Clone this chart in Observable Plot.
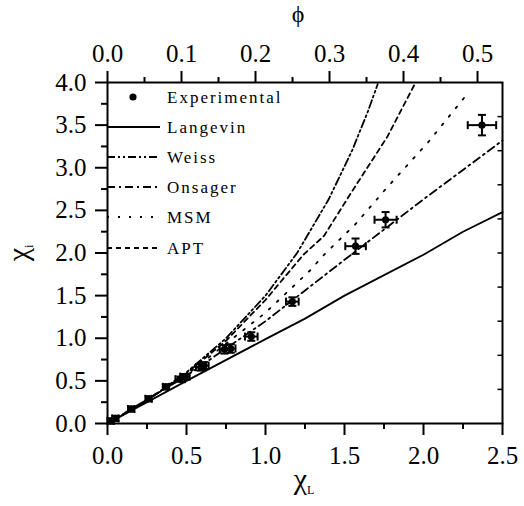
<!DOCTYPE html>
<html>
<head>
<meta charset="utf-8">
<script src="https://cdn.jsdelivr.net/npm/d3@7"></script>
<script src="https://cdn.jsdelivr.net/npm/@observablehq/plot@0.6"></script>
<style>
  html, body { margin: 0; padding: 0; background: white; }
  #chart { position: relative; width: 524px; height: 506px; }
  #chart svg, #chart svg text { font-family: "Liberation Serif", "DejaVu Serif", "Times New Roman", serif !important; }
</style>
</head>
<body>
<div id="chart"></div>
<script>
// ---------- data ----------
const expX  = [0.02, 0.05, 0.15, 0.26, 0.37, 0.46, 0.49, 0.59, 0.61, 0.74, 0.78, 0.91, 1.17, 1.57, 1.76, 2.37];
const expY  = [0.03, 0.06, 0.17, 0.29, 0.43, 0.52, 0.55, 0.66, 0.68, 0.87, 0.88, 1.02, 1.43, 2.08, 2.39, 3.50];
const expEX = [0.02, 0.02, 0.02, 0.02, 0.02, 0.03, 0.03, 0.03, 0.03, 0.03, 0.03, 0.04, 0.04, 0.065, 0.07, 0.09];
const expEY = [0.03, 0.03, 0.03, 0.03, 0.03, 0.03, 0.03, 0.04, 0.04, 0.05, 0.05, 0.05, 0.05, 0.09, 0.09, 0.12];

const langevinX = [0, 0.5, 1.0, 1.25, 1.5, 2.0, 2.25, 2.5];
const langevinY = [0, 0.5, 0.99, 1.23, 1.5, 1.98, 2.25, 2.48];

const weissX = [0, 0.25, 0.5, 0.75, 1.0, 1.2, 1.4, 1.55, 1.65, 1.71];
const weissY = [0, 0.27, 0.6, 1.0, 1.5, 2.0, 2.63, 3.21, 3.67, 3.98];

const onsagerX = [0, 0.5, 1.0, 1.5, 2.0, 2.5];
const onsagerY = [0, 0.56, 1.2, 1.92, 2.63, 3.32];

const msmX = [0, 0.5, 1.0, 1.285, 1.36, 1.57, 1.77, 2.03, 2.27];
const msmY = [0, 0.57, 1.3, 1.80, 1.96, 2.34, 2.77, 3.30, 3.85];

const aptX = [0, 0.25, 0.5, 0.75, 1.0, 1.24, 1.37, 1.55, 1.77, 1.95];
const aptY = [0, 0.27, 0.59, 0.97, 1.45, 1.98, 2.2, 2.73, 3.36, 4.0];

const xMajor = [0, 0.5, 1.0, 1.5, 2.0, 2.5];
const xMinor = [0.25, 0.75, 1.25, 1.75, 2.25];
const yMajor = [0, 0.5, 1.0, 1.5, 2.0, 2.5, 3.0, 3.5, 4.0];
const yMinor = [0.25, 0.75, 1.25, 1.75, 2.25, 2.75, 3.25, 3.75];
const yRightTicks = [0.4, 0.8, 1.2, 1.6, 2.0, 2.4, 2.8, 3.2, 3.6];
const phiMajor = [0, 0.1, 0.2, 0.3, 0.4, 0.5];
const phiMinor = [0.05, 0.15, 0.25, 0.35, 0.45];
const phiPerChiL = 0.2135;   // top axis φ = 0.2135 · χL

const seriesNames = ["Experimental", "Langevin", "Weiss", "Onsager", "MSM", "APT"];

// ---------- tables built from the arrays ----------
const exp = expX.map((x, i) => ({x, y: expY[i], ex: expEX[i], ey: expEY[i]}));
const toRows = (xs, ys) => xs.map((x, i) => ({x, y: ys[i]}));
const curves = [
  {name: "Langevin", rows: toRows(langevinX, langevinY), dash: null},
  {name: "Weiss",    rows: toRows(weissX, weissY),       dash: "8,3,2,3,2,3"},
  {name: "Onsager",  rows: toRows(onsagerX, onsagerY),   dash: "8,4,2,4"},
  {name: "MSM",      rows: toRows(msmX, msmY),           dash: "2,9"},
  {name: "APT",      rows: toRows(aptX, aptY),           dash: "5,4"}
];

const vbar = {draw(ctx, size) { const r = Math.sqrt(size / Math.PI); ctx.moveTo(0, -r); ctx.lineTo(0, r); }};
const hbar = {draw(ctx, size) { const r = Math.sqrt(size / Math.PI); ctx.moveTo(-r, 0); ctx.lineTo(r, 0); }};
const f1 = d3.format(".1f");
const serif = "'Liberation Serif', 'DejaVu Serif', 'Times New Roman', serif";

const plot = Plot.plot({
  width: 524,
  height: 506,
  marginLeft: 107,
  marginRight: 22,
  marginTop: 82,
  marginBottom: 83,
  x: {domain: [0, 2.5]},
  y: {domain: [0, 4]},
  style: {fontFamily: serif, fontSize: "25px", background: "white", color: "black", overflow: "visible"},
  marks: [
    Plot.axisX({anchor: "bottom", ticks: xMajor, tickSize: 12, tickPadding: 11, tickFormat: f1, strokeWidth: 2, label: null}),
    Plot.axisX({anchor: "bottom", ticks: xMinor, tickSize: 6, tickFormat: () => "", strokeWidth: 2, label: null}),
    Plot.axisX({anchor: "top", ticks: phiMajor.map(p => p / phiPerChiL), tickSize: 12, tickPadding: 9, tickFormat: d => f1(d * phiPerChiL), strokeWidth: 2, label: null}),
    Plot.axisX({anchor: "top", ticks: phiMinor.map(p => p / phiPerChiL), tickSize: 6, tickFormat: () => "", strokeWidth: 2, label: null}),
    Plot.axisY({anchor: "left", ticks: yMajor, tickSize: 12, tickPadding: 9, tickFormat: f1, strokeWidth: 2, label: null}),
    Plot.axisY({anchor: "left", ticks: yMinor, tickSize: 6, tickFormat: () => "", strokeWidth: 2, label: null}),
    Plot.dot(yRightTicks, {x: () => 2.5, y: d => d, symbol: hbar, r: 2.5, dx: -2.5, stroke: "black", fill: "none", strokeWidth: 1.5}),
    Plot.frame({stroke: "black", strokeWidth: 2}),
    ...curves.map(c => Plot.line(c.rows, {x: "x", y: "y", stroke: "black", strokeWidth: 1.8, strokeDasharray: c.dash})),
    Plot.link(exp, {x1: d => d.x - d.ex, x2: d => d.x + d.ex, y1: "y", y2: "y", stroke: "black", strokeWidth: 2}),
    Plot.link(exp, {x1: "x", x2: "x", y1: d => d.y - d.ey, y2: d => d.y + d.ey, stroke: "black", strokeWidth: 2}),
    Plot.dot(exp, {x: d => d.x - d.ex, y: "y", symbol: vbar, r: 4, stroke: "black", fill: "none", strokeWidth: 2}),
    Plot.dot(exp, {x: d => d.x + d.ex, y: "y", symbol: vbar, r: 4, stroke: "black", fill: "none", strokeWidth: 2}),
    Plot.dot(exp, {x: "x", y: d => d.y - d.ey, symbol: hbar, r: 4, stroke: "black", fill: "none", strokeWidth: 2}),
    Plot.dot(exp, {x: "x", y: d => d.y + d.ey, symbol: hbar, r: 4, stroke: "black", fill: "none", strokeWidth: 2}),
    Plot.dot(exp, {x: "x", y: "y", r: 3.6, fill: "black", stroke: "none"})
  ]
});

document.getElementById("chart").appendChild(plot);

// ---------- legend and axis titles ----------
const svg = d3.select(plot).attr("font-family", serif);
const lg = svg.append("g").attr("font-family", serif).attr("font-size", 17)
  .attr("letter-spacing", "2px").attr("text-anchor", "start");
const rowY = [97, 127, 157, 187, 217, 248];
seriesNames.forEach((name, i) => {
  const y = rowY[i];
  if (i === 0) {
    lg.append("circle").attr("cx", 133).attr("cy", y).attr("r", 3.6).attr("fill", "black");
  } else {
    const c = curves[i - 1];
    lg.append("line").attr("x1", 107).attr("x2", 160).attr("y1", y).attr("y2", y)
      .attr("stroke", "black").attr("stroke-width", 1.8)
      .attr("stroke-dasharray", c.dash);
  }
  lg.append("text").attr("x", 167).attr("y", y).attr("dy", "0.35em")
    .attr("text-anchor", "start").attr("fill", "black").text(name);
});

// top title ϕ
svg.append("text").attr("x", 298).attr("y", 22).attr("text-anchor", "middle")
  .attr("font-family", serif).attr("font-size", 24).attr("fill", "black").text("ϕ");

// bottom title χL
const xl = svg.append("text").attr("x", 304).attr("y", 489).attr("text-anchor", "middle")
  .attr("font-family", serif).attr("fill", "black");
xl.append("tspan").attr("font-size", 30).text("χ");
xl.append("tspan").attr("font-size", 12).attr("dy", 5).text("L");

// left title χi (rotated)
const yl = svg.append("text").attr("transform", "translate(28,253) rotate(-90)").attr("text-anchor", "middle")
  .attr("font-family", serif).attr("fill", "black");
yl.append("tspan").attr("font-size", 30).text("χ");
yl.append("tspan").attr("font-size", 12).attr("dy", 5).text("i");
</script>
</body>
</html>
